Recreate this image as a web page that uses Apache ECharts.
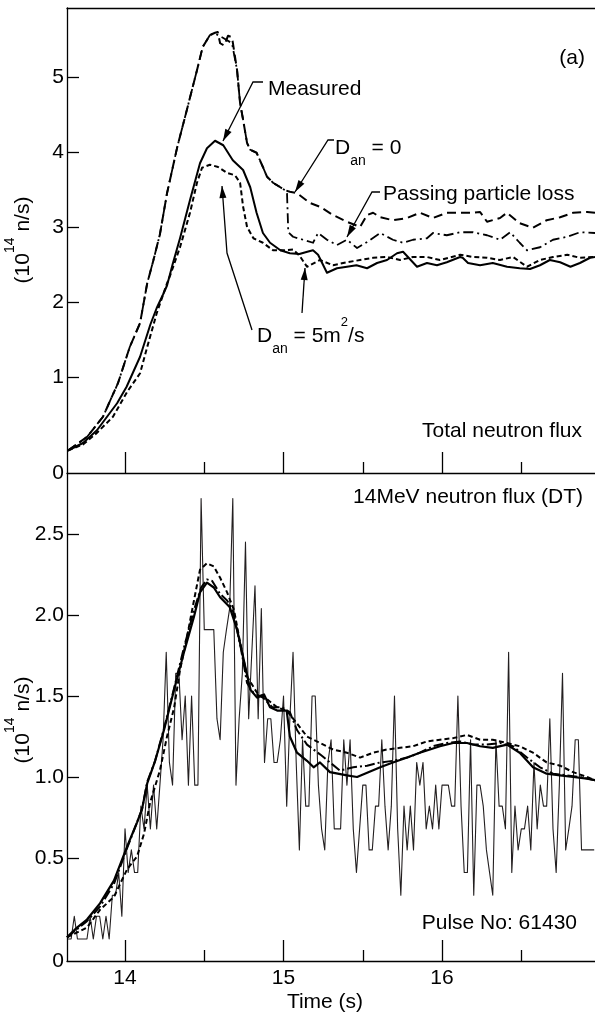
<!DOCTYPE html>
<html>
<head>
<meta charset="utf-8">
<title>Neutron flux, pulse 61430</title>
<script src="https://cdn.jsdelivr.net/npm/echarts@6.0.0/dist/echarts.min.js"></script>
<style>
  html, body { margin: 0; padding: 0; background: #fff; }
  #chart { width: 595px; height: 1019px; }
</style>
</head>
<body>
<div id="chart"></div>
<script>
// time axis (s), shared by both panels
var tMin = 13.634, tMax = 16.965;
var majorTicks = [14, 15, 16];
var minorTicks = [14.5, 15.5, 16.5];
var topTicks = [1, 2, 3, 4, 5];
var bottomTicks = [0.5, 1, 1.5, 2, 2.5];
var topMin = -0.28, topMax = 5.92;
var bottomMin = -0.136, bottomMax = 2.877;

// (a) total neutron flux, 10^14 n/s
var measuredTop = [[13.64,0.02],[13.735,0.12],[13.823,0.29],[13.95,0.65],[14.01,0.87],[14.095,1.27],[14.16,1.70],[14.2,1.92],[14.24,2.1],[14.265,2.22],[14.3,2.5],[14.347,2.85],[14.41,3.36],[14.473,3.85],[14.517,4.05],[14.568,4.15],[14.62,4.09],[14.68,3.89],[14.745,3.76],[14.79,3.53],[14.83,3.19],[14.87,2.92],[14.915,2.79],[14.98,2.69],[15.04,2.65],[15.1,2.64],[15.15,2.67],[15.186,2.69],[15.218,2.63],[15.274,2.39],[15.337,2.45],[15.4,2.47],[15.46,2.49],[15.527,2.45],[15.59,2.52],[15.653,2.56],[15.716,2.65],[15.754,2.67],[15.785,2.6],[15.842,2.47],[15.905,2.52],[15.968,2.49],[16.03,2.53],[16.114,2.6],[16.13,2.59],[16.164,2.52],[16.24,2.49],[16.32,2.52],[16.41,2.47],[16.49,2.45],[16.555,2.44],[16.618,2.49],[16.68,2.56],[16.745,2.53],[16.81,2.47],[16.87,2.52],[16.934,2.59],[16.965,2.6]];
var d0Top = [[13.64,0.02],[13.76,0.2],[13.861,0.47],[13.956,0.92],[14.03,1.4],[14.095,1.72],[14.14,2.25],[14.177,2.54],[14.22,2.9],[14.265,3.45],[14.33,4.07],[14.39,4.56],[14.454,5.09],[14.49,5.4],[14.536,5.56],[14.568,5.59],[14.585,5.6],[14.6,5.45],[14.625,5.42],[14.65,5.55],[14.675,5.53],[14.707,5.09],[14.726,4.65],[14.745,4.43],[14.77,4.12],[14.79,4.03],[14.83,3.99],[14.87,3.8],[14.896,3.67],[14.934,3.59],[14.98,3.53],[15.01,3.49],[15.04,3.47],[15.085,3.45],[15.167,3.32],[15.23,3.27],[15.312,3.16],[15.4,3.07],[15.483,3.0],[15.527,3.16],[15.565,3.19],[15.61,3.13],[15.69,3.09],[15.78,3.12],[15.86,3.19],[15.943,3.12],[16.03,3.19],[16.114,3.19],[16.196,3.19],[16.24,3.2],[16.284,3.07],[16.366,3.12],[16.41,3.19],[16.49,3.05],[16.574,2.99],[16.66,3.09],[16.745,3.13],[16.827,3.19],[16.915,3.2],[16.965,3.19]];
var lossTop = [[13.64,0.02],[13.76,0.2],[13.861,0.47],[13.956,0.92],[14.03,1.4],[14.095,1.72],[14.14,2.25],[14.177,2.54],[14.22,2.9],[14.265,3.45],[14.33,4.07],[14.39,4.56],[14.454,5.09],[14.49,5.4],[14.536,5.56],[14.568,5.58],[14.62,5.52],[14.675,5.45],[14.707,5.09],[14.726,4.65],[14.745,4.43],[14.77,4.12],[14.79,4.03],[14.83,3.99],[14.87,3.8],[14.896,3.67],[14.934,3.59],[14.98,3.53],[15.01,3.49],[15.022,3.45],[15.03,2.93],[15.06,2.87],[15.123,2.83],[15.186,2.79],[15.218,2.92],[15.274,2.83],[15.337,2.76],[15.4,2.83],[15.464,2.72],[15.527,2.8],[15.61,2.92],[15.69,2.83],[15.754,2.79],[15.817,2.83],[15.905,2.85],[15.943,2.92],[16.03,2.89],[16.114,2.93],[16.196,2.93],[16.284,2.89],[16.366,2.83],[16.43,2.93],[16.49,2.79],[16.536,2.69],[16.618,2.73],[16.7,2.83],[16.79,2.87],[16.87,2.93],[16.965,2.92]];
var d5Top = [[13.64,0.02],[13.735,0.1],[13.82,0.25],[13.924,0.47],[14.013,0.8],[14.095,1.05],[14.14,1.4],[14.2,1.85],[14.265,2.25],[14.284,2.35],[14.347,2.73],[14.41,3.19],[14.454,3.59],[14.486,3.79],[14.536,3.83],[14.587,3.8],[14.644,3.72],[14.694,3.69],[14.726,3.59],[14.745,3.27],[14.77,3.0],[14.81,2.85],[14.87,2.79],[14.934,2.69],[15.0,2.69],[15.06,2.7],[15.1,2.62],[15.148,2.47],[15.23,2.56],[15.312,2.49],[15.4,2.53],[15.483,2.56],[15.565,2.59],[15.653,2.6],[15.735,2.56],[15.817,2.6],[15.905,2.6],[15.987,2.56],[16.114,2.63],[16.196,2.6],[16.284,2.59],[16.366,2.56],[16.448,2.6],[16.536,2.47],[16.618,2.56],[16.7,2.6],[16.79,2.63],[16.87,2.59],[16.965,2.6]];

// (b) 14MeV neutron flux (DT): measured samples every 0.02 s from 13.64 s
var dtStart = 13.64, dtStep = 0.02;
var dtMeasured = [
  0, 0, 0.14, 0, 0, 0, 0, 0.14, 0, 0.14,
  0.14, 0, 0.14, 0, 0.27, 0.27, 0.41, 0.14, 0.68, 0.41,
  0.55, 0.41, 0.41, 0.82, 0.68, 0.95, 0.68, 0.95, 0.68, 0.95,
  1.23, 1.77, 1.09, 0.95, 1.64, 1.64, 1.23, 1.50, 0.95, 1.50,
  0.95, 0.95, 2.72, 1.91, 1.91, 1.91, 1.91, 1.36, 1.23, 1.77,
  1.91, 2.04, 2.72, 0.95, 1.36, 1.64, 2.45, 1.36, 1.77, 2.18,
  1.36, 2.04, 1.09, 1.36, 1.36, 1.09, 1.09, 1.23, 1.50, 0.82,
  1.36, 1.77, 1.09, 0.55, 1.23, 0.82, 0.82, 1.50, 1.50, 0.95,
  0.68, 0.55, 1.09, 1.23, 0.68, 0.68, 0.68, 1.23, 0.95, 1.23,
  0.68, 0.41, 0.68, 0.95, 0.95, 0.55, 0.55, 0.82, 0.82, 1.23,
  0.82, 0.55, 0.82, 1.50, 0.68, 0.27, 0.82, 0.55, 0.82, 0.55,
  1.09, 0.95, 1.09, 0.68, 0.82, 0.68, 0.95, 0.68, 0.95, 0.95,
  0.95, 0.82, 0.82, 1.50, 0.82, 0.41, 0.41, 1.23, 0.27, 0.95,
  0.95, 0.82, 0.55, 0.41, 0.27, 1.23, 0.82, 0.82, 0.68, 1.77,
  0.41, 0.82, 0.55, 0.68, 0.68, 0.82, 0.55, 1.09, 0.68, 0.95,
  0.82, 0.82, 1.36, 0.68, 0.41, 0.95, 1.64, 0.55, 0.68, 0.82,
  1.23, 1.23, 0.55, 0.55, 0.55, 0.55, 0.55
];
var solidBottom = [[13.634,0.01],[13.697,0.07],[13.76,0.12],[13.842,0.22],[13.93,0.36],[14.013,0.57],[14.076,0.72],[14.107,0.8],[14.14,0.96],[14.19,1.1],[14.246,1.29],[14.31,1.54],[14.372,1.77],[14.435,1.99],[14.473,2.14],[14.517,2.2],[14.56,2.17],[14.6,2.11],[14.66,2.05],[14.707,1.91],[14.75,1.72],[14.79,1.54],[14.833,1.49],[14.877,1.51],[14.915,1.43],[14.96,1.41],[15.02,1.41],[15.04,1.25],[15.085,1.15],[15.148,1.1],[15.19,1.06],[15.23,1.09],[15.293,1.03],[15.4,1.01],[15.464,1.0],[15.61,1.06],[15.69,1.09],[15.78,1.12],[15.86,1.15],[15.924,1.17],[15.987,1.19],[16.07,1.21],[16.158,1.21],[16.24,1.19],[16.32,1.18],[16.41,1.2],[16.49,1.15],[16.574,1.06],[16.66,1.02],[16.745,1.01],[16.827,1.0],[16.915,0.99],[16.965,0.98]];
var dashDotBottom = [[13.634,0.01],[13.76,0.11],[13.842,0.2],[13.93,0.34],[14.013,0.56],[14.107,0.8],[14.14,0.97],[14.19,1.1],[14.246,1.3],[14.31,1.55],[14.372,1.8],[14.435,2.03],[14.48,2.17],[14.517,2.22],[14.55,2.21],[14.6,2.13],[14.644,2.09],[14.68,2.03],[14.73,1.8],[14.77,1.58],[14.81,1.52],[14.87,1.49],[14.93,1.43],[14.99,1.43],[15.04,1.4],[15.085,1.29],[15.148,1.2],[15.23,1.14],[15.293,1.09],[15.356,1.04],[15.44,1.06],[15.527,1.07],[15.61,1.09],[15.69,1.1],[15.78,1.12],[15.86,1.15],[15.943,1.19],[16.03,1.21],[16.114,1.22],[16.196,1.2],[16.284,1.2],[16.366,1.21],[16.448,1.19],[16.536,1.12],[16.618,1.06],[16.7,1.02],[16.79,1.01],[16.87,1.0],[16.965,0.98]];
var dottedBottom = [[13.634,0.01],[13.76,0.07],[13.842,0.18],[13.93,0.26],[14.013,0.43],[14.076,0.51],[14.12,0.65],[14.158,0.84],[14.22,1.04],[14.265,1.25],[14.31,1.43],[14.347,1.66],[14.39,1.86],[14.435,2.09],[14.473,2.28],[14.517,2.32],[14.56,2.3],[14.6,2.23],[14.644,2.14],[14.688,2.03],[14.726,1.83],[14.77,1.62],[14.833,1.52],[14.896,1.48],[14.96,1.43],[15.02,1.41],[15.085,1.33],[15.148,1.25],[15.23,1.21],[15.312,1.17],[15.4,1.15],[15.483,1.12],[15.565,1.15],[15.653,1.17],[15.735,1.18],[15.817,1.19],[15.905,1.22],[15.987,1.23],[16.07,1.24],[16.158,1.26],[16.24,1.23],[16.32,1.23],[16.41,1.21],[16.49,1.19],[16.574,1.15],[16.66,1.09],[16.745,1.07],[16.827,1.03],[16.915,1.0],[16.965,0.98]];

var FONT = '"Liberation Sans", Arial, Helvetica, sans-serif';
var BLACK = '#000';

var dtPairs = dtMeasured.map(function (v, i) {
  return [+(dtStart + i * dtStep).toFixed(2), v];
});

var axisText = { color: BLACK, fontSize: 21, fontFamily: FONT };
var axisLineStyle = { color: BLACK, width: 1.3 };

function xAxisPair(gridIndex, withLabels) {
  var main = {
    gridIndex: gridIndex, type: 'value', min: tMin, max: tMax, position: 'bottom',
    axisLine: { show: true, onZero: false, lineStyle: axisLineStyle },
    axisTick: { show: true, inside: true, length: 21, customValues: majorTicks, lineStyle: axisLineStyle },
    axisLabel: withLabels ? Object.assign({ customValues: majorTicks, margin: 7 }, axisText) : { show: false },
    splitLine: { show: false }
  };
  if (withLabels) {
    main.name = 'Time (s)';
    main.nameLocation = 'middle';
    main.nameGap = 31;
    main.nameTextStyle = Object.assign({ padding: [0, 12, 0, 0] }, axisText);
  }
  var minor = {
    gridIndex: gridIndex, type: 'value', min: tMin, max: tMax, position: 'bottom',
    axisLine: { show: false, onZero: false },
    axisTick: { show: true, inside: true, length: 11, customValues: minorTicks, lineStyle: axisLineStyle },
    axisLabel: { show: false },
    splitLine: { show: false }
  };
  return [main, minor];
}

function yAxisFor(gridIndex, min, max, ticks, fmt) {
  return {
    gridIndex: gridIndex, type: 'value', min: min, max: max,
    axisLine: { show: true, onZero: false, lineStyle: axisLineStyle },
    axisTick: { show: true, inside: true, length: 12, customValues: ticks, lineStyle: axisLineStyle },
    axisLabel: Object.assign({ customValues: [min].concat(ticks), margin: 3, formatter: fmt }, axisText),
    splitLine: { show: false }
  };
}

function line(name, data, xi, yi, width, type, color, z) {
  return {
    name: name, type: 'line', data: data, xAxisIndex: xi, yAxisIndex: yi,
    showSymbol: false, symbol: 'none', clip: true, z: z || 2,
    lineStyle: { color: color || BLACK, width: width, type: type, cap: 'butt', join: 'round' }
  };
}

// arrow head (filled triangle) ending at tip, coming from "from"
function arrowHead(tip, from) {
  var dx = tip[0] - from[0], dy = tip[1] - from[1];
  var l = Math.sqrt(dx * dx + dy * dy);
  var ux = dx / l, uy = dy / l;
  var bx = tip[0] - ux * 12, by = tip[1] - uy * 12;
  return {
    type: 'polygon', z: 100,
    shape: { points: [[tip[0], tip[1]], [bx - uy * 3.5, by + ux * 3.5], [bx + uy * 3.5, by - ux * 3.5]] },
    style: { fill: BLACK }
  };
}
function leader(points) {
  return {
    type: 'polyline', z: 100,
    shape: { points: points },
    style: { stroke: BLACK, lineWidth: 1.3, fill: null }
  };
}

var rich = {
  t: { fontSize: 21, fontFamily: FONT, lineHeight: 40, fill: BLACK, color: BLACK },
  sub: { fontSize: 14, fontFamily: FONT, lineHeight: 30, verticalAlign: 'bottom', fill: BLACK, color: BLACK },
  sup: { fontSize: 13, fontFamily: FONT, lineHeight: 15, verticalAlign: 'top', fill: BLACK, color: BLACK },
  p: { fontSize: 21, fontFamily: FONT, lineHeight: 40, fill: BLACK, color: BLACK },
  sup2: { fontSize: 14, fontFamily: FONT, lineHeight: 20, verticalAlign: 'top', fill: BLACK, color: BLACK }
};

function label(x, y, text, align, rotation) {
  return {
    type: 'text', x: x, y: y, z: 100, rotation: rotation || 0,
    style: {
      text: text, rich: rich, fill: BLACK, font: '21px ' + FONT,
      align: align, textAlign: align, verticalAlign: 'middle', textVerticalAlign: 'middle'
    }
  };
}

var myChart = echarts.init(document.getElementById('chart'), null, { renderer: 'canvas' });

var xTop = xAxisPair(0, false);
var xBottom = xAxisPair(1, true);

var option = {
  animation: false,
  backgroundColor: '#fff',
  grid: [
    { left: 67, top: 8, width: 528, height: 465 },
    { left: 67, top: 473, width: 528, height: 488 }
  ],
  xAxis: [
    xTop[0], xTop[1],
    {
      gridIndex: 0, type: 'value', min: tMin, max: tMax, position: 'top',
      axisLine: { show: true, onZero: false, lineStyle: axisLineStyle },
      axisTick: { show: false }, axisLabel: { show: false }, splitLine: { show: false }
    },
    xBottom[0], xBottom[1]
  ],
  yAxis: [
    yAxisFor(0, topMin, topMax, topTicks, function (v) { return v < 0 ? '0' : String(v); }),
    yAxisFor(1, bottomMin, bottomMax, bottomTicks, function (v) { return v < 0 ? '0' : v.toFixed(1); })
  ],
  series: [
    line('Measured', measuredTop, 0, 0, 2, 'solid'),
    line('D_an = 0', d0Top, 0, 0, 2, [9, 5]),
    line('Passing particle loss', lossTop, 0, 0, 1.8, [10, 4, 2, 4]),
    line('D_an = 5m2/s', d5Top, 0, 0, 2, [5, 3]),
    line('14MeV measured', dtPairs, 3, 1, 1.1, 'solid', '#231f20', 1),
    line('14MeV solid', solidBottom, 3, 1, 2.2, 'solid'),
    line('14MeV dash-dot', dashDotBottom, 3, 1, 2, [10, 3, 2, 3]),
    line('14MeV dotted', dottedBottom, 3, 1, 2, [5, 3])
  ],
  graphic: [
    label(23, 240, '{p|(10}{sup2|14}{p| n/s)}', 'center', Math.PI / 2),
    label(23, 720, '{p|(10}{sup2|14}{p| n/s)}', 'center', Math.PI / 2),
    label(585, 58, '{t|(a)}', 'right'),
    label(268, 89, '{t|Measured}', 'left'),
    label(335, 148, '{t|D}{sub|an}{t| = 0}', 'left'),
    label(383, 194, '{t|Passing particle loss}', 'left'),
    label(257, 336, '{t|D}{sub|an}{t| = 5m}{sup|2}{t|/s}', 'left'),
    label(582, 431, '{t|Total neutron flux}', 'right'),
    label(583, 497, '{t|14MeV neutron flux (DT)}', 'right'),
    label(577, 923, '{t|Pulse No: 61430}', 'right'),
    leader([[263, 82], [253, 82], [223, 141]]),
    arrowHead([223, 141], [253, 82]),
    leader([[334, 140], [328, 140], [295, 192]]),
    arrowHead([295, 192], [328, 140]),
    leader([[380, 192], [372, 192], [347, 237]]),
    arrowHead([347, 237], [372, 192]),
    leader([[252, 330], [227, 253], [222, 186]]),
    arrowHead([222, 186], [227, 253]),
    leader([[302, 313], [305, 268]]),
    arrowHead([305, 268], [302, 313])
  ]
};

myChart.setOption(option);
</script>
</body>
</html>
